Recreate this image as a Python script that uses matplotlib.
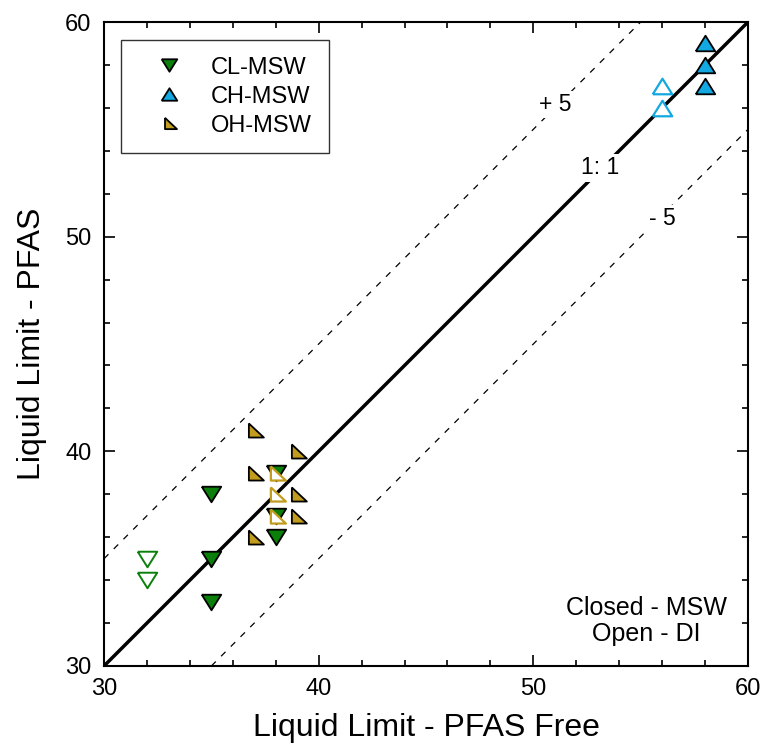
import matplotlib.pyplot as plt
from matplotlib.ticker import MultipleLocator

plt.rcParams["font.family"] = ["Liberation Sans", "DejaVu Sans"]

# CL-MSW (green, down triangles)
cl_msw_x = [35, 35, 35, 38, 38, 38]
cl_msw_y = [38, 35, 33, 39, 37, 36]
cl_di_x = [32, 32]
cl_di_y = [35, 34]

# CH-MSW (blue, up triangles)
ch_msw_x = [58, 58, 58]
ch_msw_y = [59, 58, 57]
ch_di_x = [56, 56]
ch_di_y = [57, 56]

# OH-MSW (gold, right triangles)
oh_msw_x = [37, 39, 37, 39, 39, 37]
oh_msw_y = [41, 40, 39, 38, 37, 36]
oh_di_x = [38, 38, 38]
oh_di_y = [39, 38, 37]

green = "#0a800a"
blue = "#12a8e2"
gold = "#c29c1c"

down_tri = [(-1, 0.8), (1, 0.8), (0, -0.8), (-1, 0.8)]
up_tri = [(-1, -0.8), (1, -0.8), (0, 0.8), (-1, -0.8)]
right_tri = [(-0.6, 0.75), (-0.6, -0.75), (1.0, -0.75), (-0.6, 0.75)]

fig = plt.figure(figsize=(7.66, 7.51), dpi=100)
ax = fig.add_axes([0.1358, 0.1132, 0.8407, 0.8575])

lim = [30, 60]
ax.plot(lim, lim, color="black", lw=2.5, zorder=2)
ax.plot([30, 55], [35, 60], color="black", lw=0.9, ls=(0, (5, 6)), zorder=2)
ax.plot([35, 60], [30, 55], color="black", lw=0.9, ls=(0, (5, 6)), zorder=2)

ms = 14
ms_oh = 13.5
ax.plot(cl_msw_x, cl_msw_y, ls="none", marker=down_tri, ms=ms, mfc=green,
        mec="black", mew=1.3, label="CL-MSW", zorder=3)
ax.plot(ch_msw_x, ch_msw_y, ls="none", marker=up_tri, ms=ms, mfc=blue,
        mec="black", mew=1.3, label="CH-MSW", zorder=3)
ax.plot(oh_msw_x, oh_msw_y, ls="none", marker=right_tri, ms=ms_oh, mfc=gold,
        mec="black", mew=1.3, label="OH-MSW", zorder=3)

ax.plot(cl_di_x, cl_di_y, ls="none", marker=down_tri, ms=ms, mfc="white",
        mec=green, mew=1.4, zorder=3)
ax.plot(ch_di_x, ch_di_y, ls="none", marker=up_tri, ms=ms, mfc="white",
        mec=blue, mew=1.6, zorder=3)
ax.plot(oh_di_x, oh_di_y, ls="none", marker=right_tri, ms=ms_oh, mfc="white",
        mec=gold, mew=1.6, zorder=4)

box = dict(facecolor="white", edgecolor="none", pad=1.5)
ax.text(51.0, 56.15, "+ 5", fontsize=16.5, ha="center", va="center", bbox=box, zorder=5)
ax.text(53.1, 53.2, "1: 1", fontsize=16.5, ha="center", va="center", bbox=box, zorder=5)
ax.text(56.0, 50.85, "- 5", fontsize=16.5, ha="center", va="center", bbox=box, zorder=5)
ax.text(55.25, 32.1, "Closed - MSW\nOpen - DI", fontsize=18, ha="center",
        va="center", linespacing=1.1)

ax.set_xlim(30, 60)
ax.set_ylim(30, 60)
ax.xaxis.set_major_locator(MultipleLocator(10))
ax.yaxis.set_major_locator(MultipleLocator(10))
ax.xaxis.set_minor_locator(MultipleLocator(2))
ax.yaxis.set_minor_locator(MultipleLocator(2))
ax.tick_params(which="both", direction="in", top=True, right=True, width=1.2)
ax.tick_params(which="major", length=8, labelsize=17, pad=9)
ax.tick_params(which="minor", length=4.5)
for sp in ax.spines.values():
    sp.set_linewidth(1.5)

ax.set_xlabel("Liquid Limit - PFAS Free", fontsize=23, labelpad=9)
ax.set_ylabel("Liquid Limit - PFAS", fontsize=23, labelpad=13)

leg = ax.legend(loc="upper left", bbox_to_anchor=(0.027, 0.972), fontsize=17,
                frameon=True, fancybox=False, edgecolor="black", markerscale=0.8,
                handlelength=2.6, handletextpad=0.5, borderpad=0.7,
                labelspacing=0.3, borderaxespad=0)
leg.get_frame().set_linewidth(1.0)

fig.savefig("out.png", dpi=100)
